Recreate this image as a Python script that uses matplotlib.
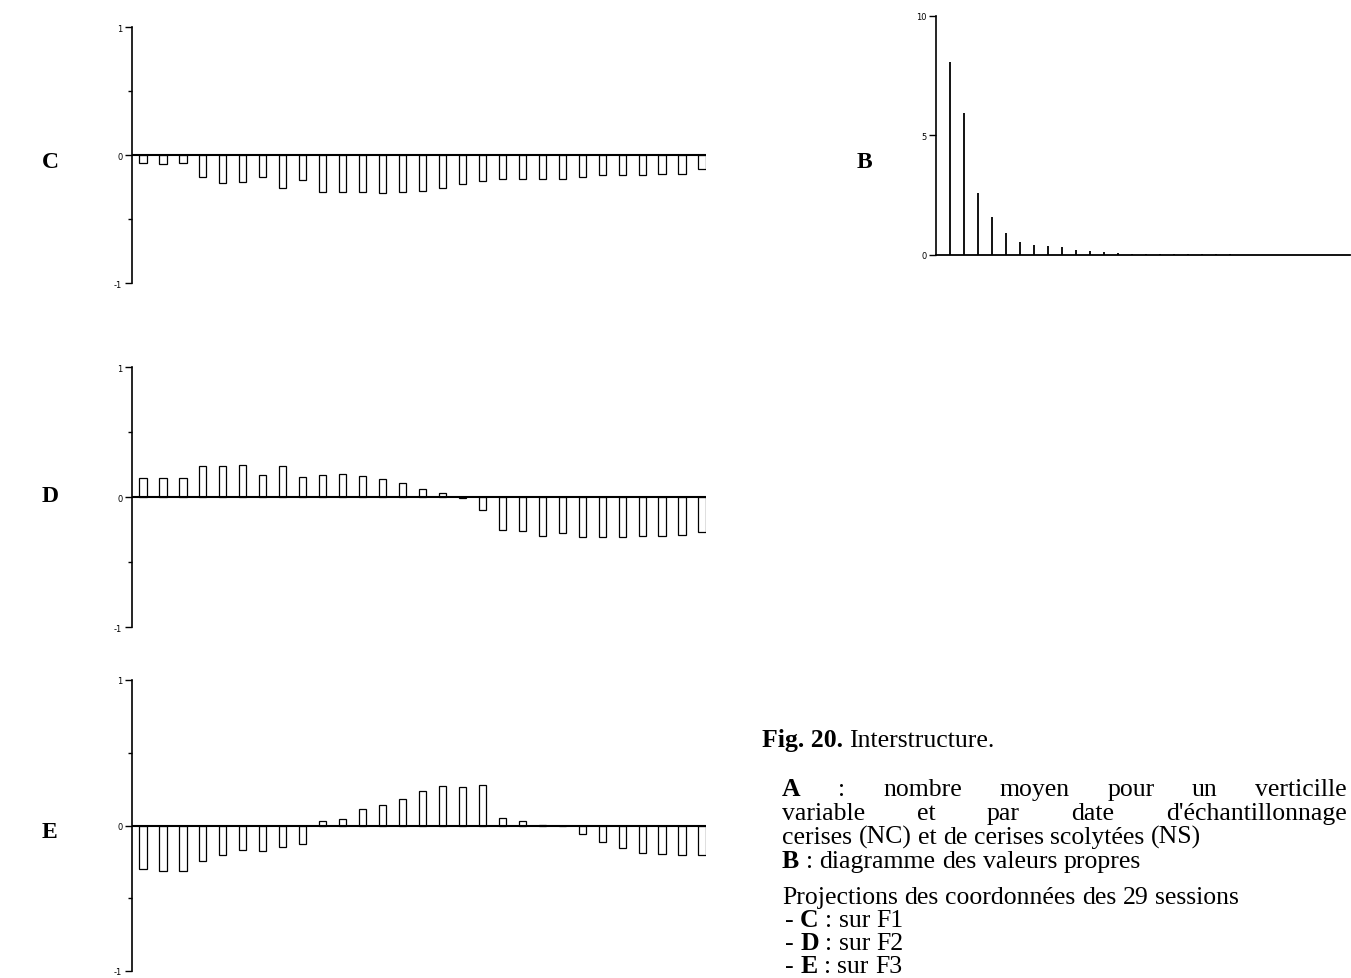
import matplotlib
matplotlib.use("Agg")
import matplotlib.pyplot as plt
import numpy as np

W, H = 1351, 979

# projections des 29 sessions sur F1, F2, F3
sessions = np.arange(1, 30)
f1 = [-0.065, -0.07, -0.06, -0.175, -0.215, -0.21, -0.175, -0.255, -0.195, -0.29,
      -0.29, -0.29, -0.295, -0.29, -0.28, -0.26, -0.23, -0.20, -0.19, -0.19,
      -0.19, -0.19, -0.17, -0.16, -0.16, -0.155, -0.15, -0.15, -0.11]
f2 = [0.15, 0.15, 0.15, 0.24, 0.24, 0.245, 0.17, 0.24, 0.155, 0.17,
      0.18, 0.165, 0.14, 0.11, 0.06, 0.03, -0.01, -0.10, -0.25, -0.26,
      -0.30, -0.28, -0.31, -0.31, -0.31, -0.30, -0.30, -0.29, -0.27]
f3 = [-0.30, -0.31, -0.31, -0.245, -0.20, -0.17, -0.175, -0.145, -0.13, 0.03,
      0.045, 0.115, 0.14, 0.18, 0.24, 0.27, 0.265, 0.28, 0.05, 0.03,
      0.005, -0.005, -0.06, -0.11, -0.155, -0.19, -0.195, -0.20, -0.20]

# valeurs propres de l'interstructure
rangs = np.arange(1, 30)
vp = [8.05, 5.93, 2.59, 1.57, 0.92, 0.53, 0.42, 0.36, 0.32, 0.22,
      0.18, 0.11, 0.08, 0.06, 0.05, 0.05, 0.04, 0.04, 0.03, 0.03,
      0.03, 0.02, 0.02, 0.02, 0.01, 0.01, 0.01, 0.01, 0.0]

serif = "Liberation Serif"


def rect(left, top, right, bottom):
    # pixel box -> figure fraction
    return [left / W, 1 - bottom / H, (right - left) / W, (bottom - top) / H]


fig = plt.figure(figsize=(W / 100, H / 100), dpi=100)


def projection(box, vals, letter, ly):
    ax = fig.add_axes(rect(*box))
    ax.bar(sessions, vals, width=0.36, facecolor="white",
           edgecolor="black", linewidth=0.9, zorder=2)
    ax.axhline(0, color="black", lw=1.5, zorder=3)
    ax.set_xlim(0.45, 29.2)
    ax.set_ylim(-1, 1)
    for s in ["top", "right", "bottom"]:
        ax.spines[s].set_visible(False)
    ax.spines["left"].set_linewidth(1.2)
    ax.set_xticks([])
    ax.set_yticks([-1, 0, 1])
    ax.set_yticklabels(["-1", "0", "1"])
    ax.set_yticks([-0.5, 0.5], minor=True)
    ax.tick_params(axis="y", length=5, width=1, labelsize=6, pad=2)
    ax.tick_params(axis="y", which="minor", length=3, width=1)
    fig.text(42 / W, 1 - ly / H, letter, family=serif, fontweight="bold",
             fontsize=17, va="center")
    return ax


projection((132, 28, 706, 284), f1, "C", 162)
projection((132, 368, 706, 628), f2, "D", 497)
projection((132, 681, 706, 972), f3, "E", 833)

# diagramme des valeurs propres
axb = fig.add_axes(rect(936, 16.7, 1350, 256))
axb.vlines(rangs, 0, vp, color="black", lw=1.3)
axb.set_xlim(0, 29.6)
axb.set_ylim(0, 10)
for s in ["top", "right"]:
    axb.spines[s].set_visible(False)
axb.spines["left"].set_linewidth(1.2)
axb.spines["bottom"].set_linewidth(1.3)
axb.set_xticks([])
axb.set_yticks([0, 5, 10])
axb.tick_params(axis="y", length=5, width=1, labelsize=6, pad=2)
fig.text(857 / W, 1 - 163 / H, "B", family=serif, fontweight="bold",
         fontsize=17, va="center")

# légende de la figure
renderer = fig.canvas.get_renderer()
size = 18.5


def text_width(s, w="normal"):
    t = fig.text(0, 0, s, family=serif, fontweight=w, fontsize=size)
    wd = t.get_window_extent(renderer).width
    t.remove()
    return wd


space = text_width("a a") - 2 * text_width("a")


def line(x, y, parts, justify_to=None):
    items = [fig.text(x / W, 1 - y / H, s, family=serif, fontweight=w,
                      fontsize=size, va="baseline") for s, w in parts]
    widths = [t.get_window_extent(renderer).width for t in items]
    sp = space
    if justify_to is not None and len(items) > 1:
        sp = (justify_to - x - sum(widths)) / (len(items) - 1)
    cx = x
    for t, w in zip(items, widths):
        t.set_x(cx / W)
        cx += w + sp


line(762, 747, [("Fig. 20.", "bold"), ("Interstructure.", "normal")])
line(782, 796, [("A", "bold"), (":", "normal"), ("nombre", "normal"), ("moyen", "normal"),
                ("pour", "normal"), ("un", "normal"), ("verticille", "normal")], justify_to=1347)
line(782, 820, [("variable", "normal"), ("et", "normal"), ("par", "normal"),
                ("date", "normal"), ("d'échantillonnage", "normal")], justify_to=1347)
line(782, 844, [("cerises", "normal"), ("(NC)", "normal"), ("et", "normal"), ("de", "normal"),
                ("cerises", "normal"), ("scolytées", "normal"), ("(NS)", "normal")])
line(782, 868, [("B", "bold"), (":", "normal"), ("diagramme", "normal"), ("des", "normal"),
                ("valeurs", "normal"), ("propres", "normal")])
line(782, 904, [("Projections", "normal"), ("des", "normal"), ("coordonnées", "normal"),
                ("des", "normal"), ("29", "normal"), ("sessions", "normal")])
for i, (k, f) in enumerate([("C", "F1"), ("D", "F2"), ("E", "F3")]):
    line(785, 927 + 23 * i, [("-", "normal"), (k, "bold"), (":", "normal"),
                             ("sur", "normal"), (f, "normal")])

fig.savefig("out.png", dpi=100)
